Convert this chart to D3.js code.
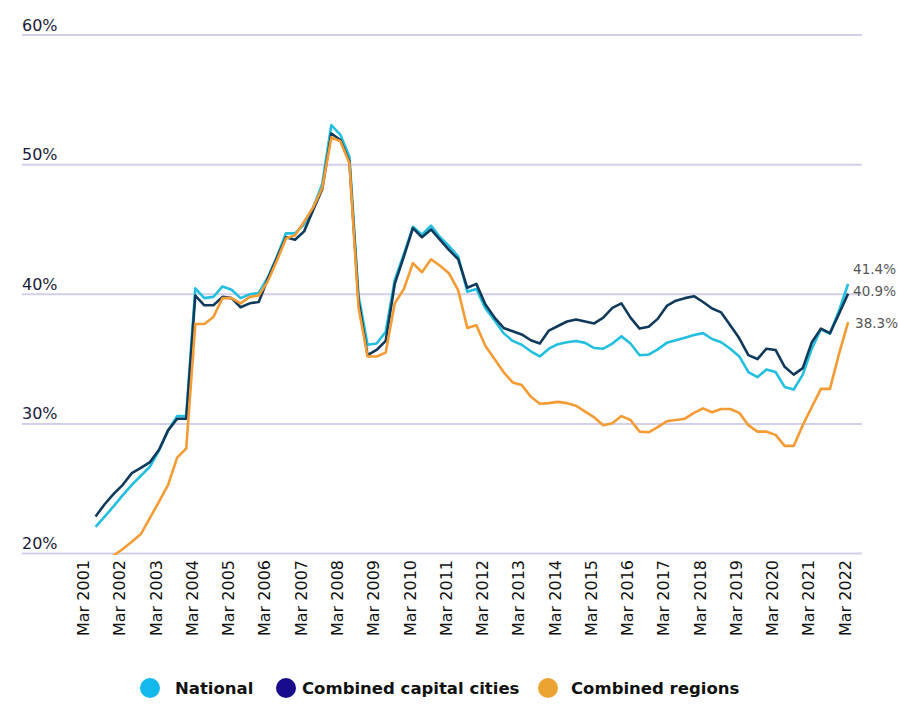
<!DOCTYPE html>
<html><head><meta charset="utf-8">
<script src="https://cdn.jsdelivr.net/npm/d3@7"></script>
<style>
html,body{margin:0;padding:0;background:#fff;}
svg{display:block;font-family:"DejaVu Sans",sans-serif;}
</style></head><body>
<svg id="chart" width="898" height="712"></svg>
<script>
// Quarterly series, Jun 2001 (index 1) .. Mar 2022 (index 84); index 0 = Mar 2001
const tickLabels = ["Mar 2001","Mar 2002","Mar 2003","Mar 2004","Mar 2005","Mar 2006","Mar 2007","Mar 2008","Mar 2009","Mar 2010","Mar 2011","Mar 2012","Mar 2013","Mar 2014","Mar 2015","Mar 2016","Mar 2017","Mar 2018","Mar 2019","Mar 2020","Mar 2021","Mar 2022"];

const national = [22.05,22.85,23.65,24.5,25.3,26.0,26.7,27.95,29.5,30.6,
  30.6,40.45,39.7,39.8,40.6,40.35,39.7,40.0,40.1,41.3,
  42.9,44.7,44.7,45.4,46.7,48.5,53.05,52.3,50.6,39.9,
  36.1,36.2,37.1,41.1,43.1,45.2,44.6,45.3,44.4,43.7,
  42.9,40.2,40.4,38.9,38.0,37.0,36.4,36.1,35.6,35.2,
  35.8,36.15,36.3,36.4,36.25,35.85,35.8,36.2,36.75,36.2,
  35.3,35.35,35.75,36.25,36.45,36.65,36.85,37.0,36.55,36.3,
  35.8,35.2,34.0,33.6,34.2,34.0,32.85,32.65,33.8,35.8,
  37.3,36.95,38.75,40.8];

const capitals = [22.85,23.8,24.6,25.3,26.2,26.6,27.05,28.0,29.5,30.4,
  30.4,39.9,39.15,39.15,39.8,39.7,39.0,39.3,39.4,41.2,
  42.8,44.4,44.2,44.85,46.5,48.1,52.4,51.9,50.2,39.5,
  35.3,35.7,36.4,40.8,42.9,45.1,44.4,45.0,44.2,43.4,
  42.7,40.5,40.8,39.2,38.2,37.4,37.15,36.9,36.45,36.2,
  37.2,37.55,37.9,38.05,37.9,37.75,38.2,38.95,39.3,38.2,
  37.35,37.5,38.1,39.1,39.5,39.7,39.85,39.4,38.9,38.6,
  37.6,36.6,35.3,35.0,35.8,35.7,34.4,33.8,34.3,36.3,
  37.35,37.0,38.5,40.05];

const regions = [19.2,19.5,19.85,20.35,20.9,21.5,22.75,24.0,25.3,27.4,
  28.1,37.7,37.7,38.25,39.7,39.7,39.3,39.8,39.9,41.0,
  42.6,44.3,44.55,45.6,46.7,48.2,52.1,51.8,50.1,39.0,
  35.2,35.2,35.5,39.3,40.4,42.4,41.7,42.7,42.2,41.6,
  40.3,37.4,37.6,36.0,35.0,34.0,33.2,33.0,32.1,31.55,
  31.6,31.7,31.6,31.4,30.95,30.5,29.9,30.05,30.6,30.3,
  29.4,29.35,29.75,30.2,30.3,30.4,30.85,31.2,30.9,31.15,
  31.15,30.85,29.9,29.4,29.4,29.15,28.3,28.3,29.9,31.3,
  32.7,32.7,35.4,37.85];

const seriesNames = ["National","Combined capital cities","Combined regions"];
const endLabels = ["41.4%","40.9%","38.3%"];
const yTicks = [20,30,40,50,60];

const lineColors = ["#22bfe0","#0f3a5c","#f59b33"];
const legendColors = ["#13b8ec","#180c8c","#eba332"];

const svg = d3.select("#chart");
const x = d3.scaleLinear().domain([0,84]).range([86.5,848.1]);
const y = d3.scaleLinear().domain([20,60]).range([553.5,35]);

// gridlines
svg.append("g").selectAll("line").data(yTicks).join("line")
  .attr("x1",22).attr("x2",862)
  .attr("y1",d=>y(d)).attr("y2",d=>y(d))
  .attr("stroke","#d3cfe8").attr("stroke-width",2);

svg.append("g").selectAll("text").data(yTicks).join("text")
  .attr("x",22).attr("y",d=>y(d)-4.5)
  .attr("font-size",16).attr("fill","#1b1b3a")
  .text(d=>d+"%");

// x labels
svg.append("g").selectAll("text").data(tickLabels).join("text")
  .attr("transform",(d,k)=>`translate(${x(k*4)-3},560) rotate(-90)`)
  .attr("text-anchor","end").attr("dy","0.35em")
  .attr("font-size",16).attr("fill","#111")
  .text(d=>d);

// clip
svg.append("clipPath").attr("id","plot").append("rect")
  .attr("x",0).attr("y",25).attr("width",898).attr("height",530);

const series = [national,capitals,regions];
const line = d3.line().x((d,i)=>x(i+1)).y(d=>y(d));
const lg = svg.append("g").attr("clip-path","url(#plot)");
series.forEach((s,k)=>{
  lg.append("path").attr("d",line(s))
    .attr("fill","none").attr("stroke",lineColors[k])
    .attr("stroke-width",2.6).attr("stroke-linejoin","round");
});

// end labels
const endOffsets = [[5,-10],[5,2],[7,6]];
series.forEach((s,k)=>{
  svg.append("text")
    .attr("x",x(84)+endOffsets[k][0]).attr("y",y(s[s.length-1])+endOffsets[k][1])
    .attr("font-size",13.5).attr("fill","#555")
    .text(endLabels[k]);
});

// legend
const legendCx = [150,286,548];
const legendTx = [175,302,571];
const leg = svg.append("g");
seriesNames.forEach((n,k)=>{
  leg.append("circle").attr("cx",legendCx[k]).attr("cy",688).attr("r",10)
    .attr("fill",legendColors[k]);
  leg.append("text").attr("x",legendTx[k]).attr("y",694)
    .attr("font-size",16.5).attr("font-weight","bold").attr("fill","#111")
    .text(n);
});
</script>
</body></html>
